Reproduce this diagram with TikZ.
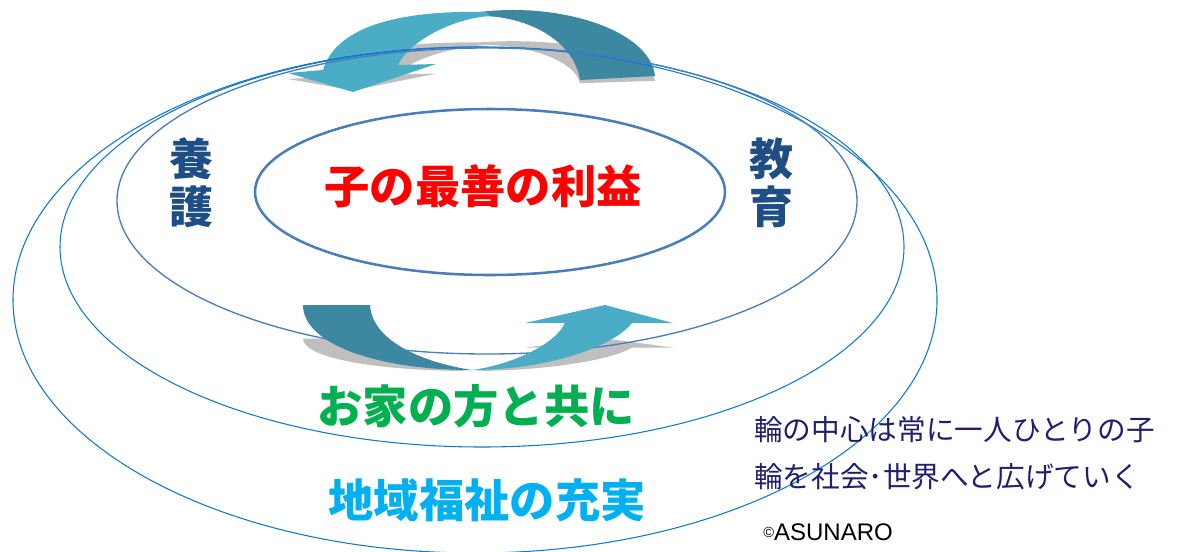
\documentclass[tikz,border=0pt]{standalone}
\usepackage{fontspec}
\setmainfont{Liberation Sans}
\newfontfamily\jp{Noto Sans CJK JP}
\definecolor{lightarr}{HTML}{4BACC6}
\definecolor{darkarr}{HTML}{3B88A0}
\definecolor{shadowc}{HTML}{BFBFBF}
\definecolor{outerblue}{HTML}{1479CC}
\definecolor{steel}{HTML}{4A7EBB}
\definecolor{redt}{HTML}{FF0000}
\definecolor{greent}{HTML}{00B050}
\definecolor{cyant}{HTML}{00B0F0}
\definecolor{navyt}{HTML}{1F4E85}
\definecolor{inkt}{HTML}{1F1F6E}
\newcommand\TopArrows[2]{%
  \fill[#2] (480,12) .. controls (560,2) and (650,30) .. (655,76)
     -- (580,80) .. controls (575,45) and (535,18) .. (485,16) -- cycle;
  \fill[#1] (323,70) .. controls (335,30) and (390,10) .. (486,12)
     -- (490,16) .. controls (455,18) and (410,40) .. (398,65)
     -- (436,64) -- (353,92) -- (288,73) -- cycle;}
\newcommand\BottomArrows[2]{%
  \fill[#2] (303,305) .. controls (303,345) and (380,370) .. (472,370)
     .. controls (420,362) and (372,340) .. (370,305) -- cycle;
  \fill[#1] (472,370) .. controls (540,370) and (610,350) .. (632,323)
     -- (673,323) -- (605,305) -- (525,323) -- (565,323)
     .. controls (555,345) and (510,365) .. (472,370) -- cycle;}
\tikzset{
  outerring/.style={draw=outerblue, line width=0.8pt},
  midring/.style={draw=steel, line width=1pt},
  innerring/.style={draw=steel, line width=1.9pt},
  bigjp/.style={inner sep=0pt, font=\jp\bfseries\fontsize{34}{36}\selectfont},
  sidejp/.style={inner sep=0pt, align=center, text=navyt, font=\jp\bfseries\fontsize{33}{36}\selectfont},
  notejp/.style={inner sep=0pt, anchor=west, text=inkt, font=\jp\fontsize{21.5}{24}\selectfont},
}
\begin{document}
\begin{tikzpicture}[x=0.75pt,y=-0.75pt]
\useasboundingbox (0,0) rectangle (1177,551);
% top arrows with shadow
\begin{scope}[shift={(0,35.2)}, yscale=0.6]
  \TopArrows{shadowc}{shadowc}
\end{scope}
\TopArrows{lightarr}{darkarr}
% bottom arrow shadow
\begin{scope}[shift={(0,186)}, yscale=0.5]
  \BottomArrows{shadowc}{shadowc}
\end{scope}
% rings
\path[outerring] (475,300) ellipse [x radius=462, y radius=253];
\path[outerring] (482,247) ellipse [x radius=422, y radius=200];
\path[midring] (487,201) ellipse [x radius=370, y radius=153];
\path[innerring] (490,192) ellipse [x radius=235, y radius=83];
% bottom arrows
\BottomArrows{lightarr}{darkarr}
% texts
\node[bigjp, text=redt] (best) at (483,186) {子の最善の利益};
\node[bigjp, text=greent] (family) at (476,406) {お家の方と共に};
\node[bigjp, text=cyant] (welfare) at (487,500) {地域福祉の充実};
\node[sidejp] (care) at (191,183) {養\\護};
\node[sidejp] (edu) at (771,183) {教\\育};
\node[notejp] (note1) at (754,430) {輪の中心は常に一人ひとりの子};
\node[notejp] (note2) at (754,477) {輪を社会･世界へと広げていく};
\node[inner sep=0pt, anchor=west, text=black, font=\fontsize{18}{20}\selectfont] (copy) at (763,532) {{\fontsize{11}{11}\selectfont\raisebox{0.35ex}{©}}ASUNARO};
\end{tikzpicture}
\end{document}
